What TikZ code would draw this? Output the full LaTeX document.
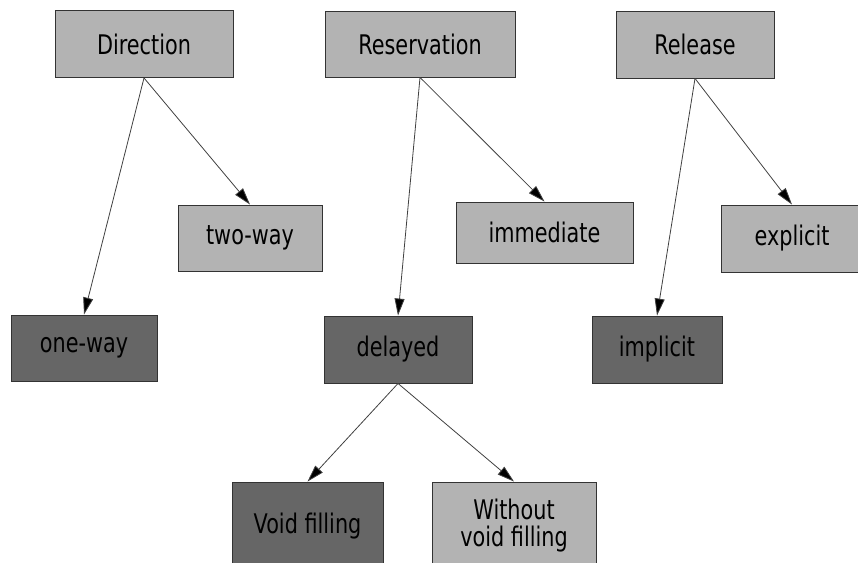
\documentclass[tikz,border=0pt]{standalone}
\usepackage{fontspec}
\setmainfont{DejaVu Sans}[FakeStretch=0.77]
\usetikzlibrary{arrows.meta}
\definecolor{boxlight}{HTML}{B3B3B3}
\definecolor{boxdark}{HTML}{666666}
\definecolor{boxline}{HTML}{333333}
\begin{document}
\begin{tikzpicture}[x=1pt,y=-1pt,
  box/.style={draw=boxline, line width=0.9pt, rectangle, inner sep=0pt,
    align=center, font=\fontsize{27}{27}\selectfont},
  light/.style={box, fill=boxlight},
  dark/.style={box, fill=boxdark},
  arr/.style={draw=black!75, line width=0.8pt,
    -{Triangle[length=17pt,width=10pt,fill=black]}}]
\useasboundingbox (0,0) rectangle (858,562);
\clip (0,0) rectangle (858,562);
% top-level categories
\node[light, minimum width=178pt, minimum height=67pt] (dir) at (144,44) {Direction};
\node[light, minimum width=190pt, minimum height=66pt] (res) at (420,44) {Reservation};
\node[light, minimum width=158pt, minimum height=67pt] (rel) at (695,44.5) {Release};
% options
\node[light, minimum width=144pt, minimum height=66pt] (twoway) at (250,238) {two-way};
\node[dark, minimum width=146pt, minimum height=66pt] (oneway) at (84,348) {one-way};
\node[light, minimum width=177pt, minimum height=61pt] (immediate) at (544.5,232.5) {immediate};
\node[dark, minimum width=148pt, minimum height=67pt] (delayed) at (398,349.5) {delayed};
\node[dark, minimum width=130pt, minimum height=67pt] (implicit) at (657,349.5) {implicit};
\node[light, minimum width=142pt, minimum height=67pt] (explicit) at (792,238.5) {explicit};
\node[dark, minimum width=151pt, minimum height=88pt] (void) at (307.5,526) {Void filling};
\node[light, minimum width=164pt, minimum height=88pt] (novoid) at (514,526) {Without\\void filling};
% connectors
\draw[arr] (dir.south) -- (twoway.north);
\draw[arr] (dir.south) -- (oneway.north);
\draw[arr] (res.south) -- (immediate.north);
\draw[arr] (res.south) -- (delayed.north);
\draw[arr] (rel.south) -- (explicit.north);
\draw[arr] (rel.south) -- (implicit.north);
\draw[arr] (delayed.south) -- (void.north);
\draw[arr] (delayed.south) -- (novoid.north);
\end{tikzpicture}
\end{document}
